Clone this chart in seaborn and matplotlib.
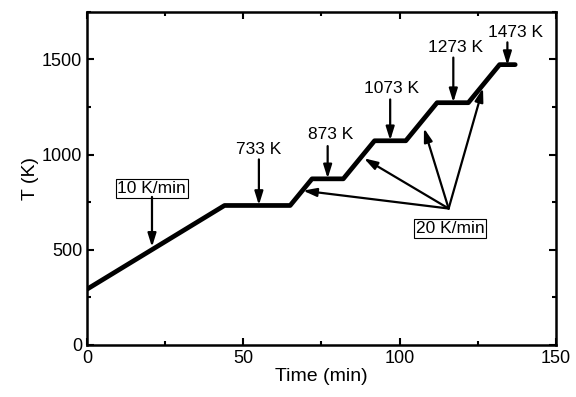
import pandas as pd
import matplotlib.pyplot as plt
import seaborn as sns
from matplotlib.ticker import MultipleLocator

# Heating profile (time in min, temperature in K)
time_min = [0, 44, 65, 72, 82, 92, 102, 112, 122, 132, 137]
temp_k = [293, 733, 733, 873, 873, 1073, 1073, 1273, 1273, 1473, 1473]

# Hold temperature labels: text, text pos, arrow start, arrow tip
hold_labels = ['733 K', '873 K', '1073 K', '1273 K', '1473 K']
hold_text_x = [55, 78, 97.5, 118, 137]
hold_text_y = [1025, 1104, 1345, 1561, 1641]
hold_arrow_x = [55, 77, 97, 117.2, 134.5]
hold_arrow_top = [975, 1045, 1290, 1510, 1590]
hold_arrow_tip = [735, 875, 1075, 1275, 1470]

# 20 K/min ramp arrows
ramp_origin = (115.7, 717)
ramp_tip_x = [69.1, 88.6, 107.8, 126.7]
ramp_tip_y = [811, 981, 1139, 1350]

df = pd.DataFrame({'Time (min)': time_min, 'T (K)': temp_k})

sns.set_style('ticks')
plt.rcParams['font.family'] = ['Liberation Sans', 'DejaVu Sans']
plt.rcParams.update({'text.color': 'black', 'axes.labelcolor': 'black',
                     'xtick.color': 'black', 'ytick.color': 'black'})

fig = plt.figure(figsize=(5.76, 3.97), dpi=100)
ax = fig.add_axes([0.151, 0.131, 0.814, 0.839])

sns.lineplot(data=df, x='Time (min)', y='T (K)', ax=ax, color='black',
             linewidth=3.4, sort=False)

ax.set_xlim(0, 150)
ax.set_ylim(0, 1750)
ax.xaxis.set_major_locator(MultipleLocator(50))
ax.xaxis.set_minor_locator(MultipleLocator(25))
ax.yaxis.set_major_locator(MultipleLocator(500))
ax.yaxis.set_minor_locator(MultipleLocator(250))
ax.tick_params(which='both', direction='in', top=True, right=True,
               labelsize=13, width=1.5)
ax.tick_params(which='major', length=5)
ax.tick_params(which='minor', length=3)
for s in ax.spines.values():
    s.set_linewidth(1.8)
    s.set_color('black')
ax.set_xlabel('Time (min)', fontsize=14, labelpad=1)
ax.set_ylabel('T (K)', fontsize=14, labelpad=2)

arrow_kw = dict(arrowstyle='-|>,head_length=0.8,head_width=0.25', color='black',
                lw=1.6, shrinkA=0, shrinkB=0)

# 10 K/min
ax.text(20.7, 823, '10 K/min', ha='center', va='center', fontsize=12.5,
        bbox=dict(boxstyle='square,pad=0.1', fc='white', ec='black', lw=0.8))
ax.annotate('', xy=(20.8, 515), xytext=(20.8, 778), arrowprops=arrow_kw)

for lab, tx, ty, axx, at, tip in zip(hold_labels, hold_text_x, hold_text_y,
                                     hold_arrow_x, hold_arrow_top, hold_arrow_tip):
    ax.text(tx, ty, lab, ha='center', va='center', fontsize=12.5)
    ax.annotate('', xy=(axx, tip), xytext=(axx, at), arrowprops=arrow_kw)

for x, y in zip(ramp_tip_x, ramp_tip_y):
    ax.annotate('', xy=(x, y), xytext=ramp_origin, arrowprops=arrow_kw)
ax.text(116.1, 612, '20 K/min', ha='center', va='center', fontsize=12.5,
        bbox=dict(boxstyle='square,pad=0.1', fc='white', ec='black', lw=0.8))

fig.savefig('out.png', dpi=100)
